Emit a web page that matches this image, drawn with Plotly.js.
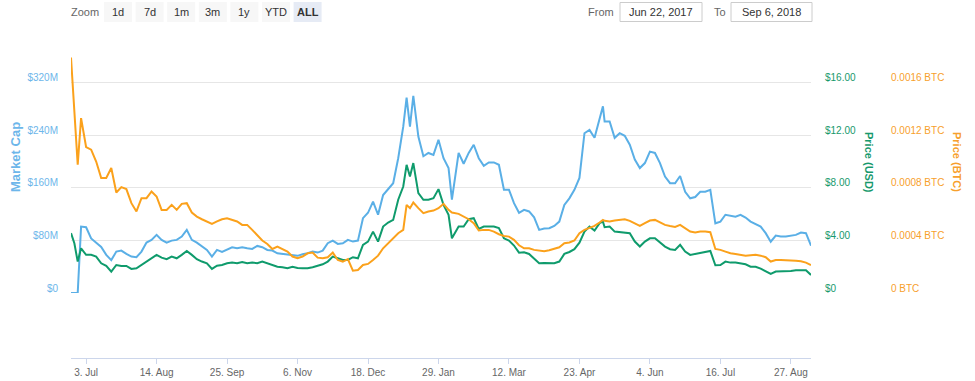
<!DOCTYPE html>
<html><head><meta charset="utf-8">
<script src="https://cdn.plot.ly/plotly-3.0.1.min.js"></script>
<style>html,body{margin:0;padding:0;background:#fff;}#chart{width:975px;height:381px;}</style>
</head><body><div id="chart"></div>
<script>
const dates = [
"2017-06-24","2017-06-26","2017-06-28","2017-06-30",
"2017-07-03","2017-07-06","2017-07-09","2017-07-12","2017-07-15","2017-07-18","2017-07-21","2017-07-24","2017-07-27","2017-07-30",
"2017-08-02","2017-08-05","2017-08-08","2017-08-11","2017-08-14","2017-08-17","2017-08-20","2017-08-23","2017-08-26","2017-08-29",
"2017-09-01","2017-09-04","2017-09-07","2017-09-10","2017-09-13","2017-09-16","2017-09-19","2017-09-22","2017-09-25","2017-09-28",
"2017-10-01","2017-10-04","2017-10-07","2017-10-10","2017-10-13","2017-10-16","2017-10-19","2017-10-22","2017-10-25","2017-10-28","2017-10-31",
"2017-11-03","2017-11-06","2017-11-09","2017-11-12","2017-11-15","2017-11-18","2017-11-21","2017-11-24","2017-11-27","2017-11-30",
"2017-12-03","2017-12-06","2017-12-09","2017-12-12","2017-12-15","2017-12-18","2017-12-21","2017-12-24","2017-12-27","2017-12-30",
"2018-01-02","2018-01-05","2018-01-08","2018-01-10","2018-01-12","2018-01-14","2018-01-17","2018-01-20","2018-01-23","2018-01-26","2018-01-29",
"2018-02-01","2018-02-04","2018-02-06","2018-02-10","2018-02-13","2018-02-16","2018-02-19","2018-02-22","2018-02-25","2018-02-28",
"2018-03-03","2018-03-06","2018-03-09","2018-03-12","2018-03-15","2018-03-18","2018-03-21","2018-03-24","2018-03-27","2018-03-30",
"2018-04-02","2018-04-05","2018-04-08","2018-04-11","2018-04-14","2018-04-17","2018-04-20","2018-04-23","2018-04-26","2018-04-29",
"2018-05-02","2018-05-05","2018-05-07","2018-05-08","2018-05-11","2018-05-14","2018-05-17","2018-05-20","2018-05-23","2018-05-26","2018-05-29",
"2018-06-01","2018-06-04","2018-06-07","2018-06-10","2018-06-13","2018-06-16","2018-06-19","2018-06-22","2018-06-25","2018-06-28",
"2018-07-01","2018-07-04","2018-07-07","2018-07-10","2018-07-13","2018-07-16","2018-07-19","2018-07-22","2018-07-25","2018-07-28","2018-07-31",
"2018-08-03","2018-08-06","2018-08-09","2018-08-12","2018-08-15","2018-08-18","2018-08-21","2018-08-24","2018-08-27","2018-08-30",
"2018-09-02","2018-09-05","2018-09-08"];

// Market cap in millions of USD
const marketCapM = [0,0,0,101,
100,83,76,70,58,50,63,64.5,59.4,55.4,
54.4,63,76.7,80.8,88.4,80.8,76.7,79.7,80.8,85.8,
96,80.8,76.7,70.6,65.5,55.4,65.5,62.5,65.5,69.6,
68,69.6,68,67,71.6,69.6,65.5,64.5,60.4,59.4,58,
57,56.5,59,60.4,63,61.5,64.5,75.7,79.7,74.7,
75.7,80.8,78.2,79.7,113.8,122,139,119,149,158,
167,205,253,297,253,300,238,208,213,210,233,
205,190,142,213,196.6,213,225.5,205,193.5,198.6,
198.6,195,157,157,136.6,122,126.5,124,115,96,
98,98.5,102,108.6,134,144,157,175,243,248,
236,266,284,261,261,236,243,239,225.5,203,190,
197.6,215,213,197.6,177,167,167,178,154,144,
146,154,154,157,106,108.6,119,117,116,119,114.8,
108.6,105,101,91,78,87.4,85.8,85.8,86.9,88.4,
92,91,72];

const priceUSD = [4.55,3.78,2.39,3.4,
2.9,2.9,2.77,2.26,2.06,1.62,2.13,2.06,2.06,1.83,
1.88,2.13,2.44,2.64,2.9,2.69,2.57,2.77,2.64,2.9,
3.2,2.9,2.57,2.39,2.26,1.83,2.08,2.13,2.26,2.31,
2.26,2.36,2.26,2.31,2.26,2.39,2.26,2.11,2.0,1.96,1.88,
2.0,1.9,1.88,1.88,1.96,2.08,2.18,2.39,2.77,2.64,
2.51,2.51,2.72,2.64,3.66,3.91,4.67,3.91,5.05,5.36,
5.56,7.09,8.1,9.75,8.86,9.88,7.6,7.09,7.09,7.21,7.9,
6.7,5.94,4.16,5.05,5.05,5.61,5.69,4.88,5.05,5.05,
5.05,4.93,4.16,3.99,3.61,3.07,3.1,2.97,2.64,2.26,
2.28,2.26,2.26,2.39,2.97,3.12,3.33,3.83,4.67,5.05,
4.75,5.31,5.43,5.0,5.05,4.67,4.62,4.62,4.55,3.91,3.53,
3.91,4.16,4.16,3.83,3.53,3.33,3.28,3.66,3.15,2.9,
2.97,3.07,3.1,3.2,2.11,2.13,2.39,2.31,2.31,2.26,2.18,
2.0,2.0,1.85,1.68,1.45,1.63,1.63,1.65,1.68,1.73,
1.75,1.73,1.37];

const priceBTC = [0.00179,0.00139,0.000975,0.00133,
0.00111,0.00109,0.001,0.000874,0.000874,0.00095,0.000764,0.000805,0.00079,0.000683,
0.00062,0.000721,0.000721,0.000772,0.000734,0.000632,0.000632,0.00067,0.000632,0.000678,
0.000683,0.000612,0.000581,0.000561,0.000544,0.000526,0.000544,0.000561,0.000569,0.000556,
0.000544,0.000518,0.000518,0.00048,0.000437,0.000399,0.000373,0.000335,0.000353,0.000333,0.000315,
0.000277,0.000264,0.000277,0.000302,0.000307,0.000269,0.000264,0.000272,0.000307,0.000251,
0.000239,0.000257,0.00017,0.000175,0.000213,0.000221,0.000251,0.000284,0.00034,0.000379,
0.000424,0.000455,0.00048,0.00067,0.000645,0.000688,0.000645,0.000607,0.00062,0.000627,0.000645,
0.000678,0.000632,0.000612,0.000602,0.000581,0.000561,0.000531,0.000475,0.00048,0.00048,
0.000467,0.000447,0.000434,0.000429,0.000404,0.000363,0.00034,0.00034,0.000328,0.000323,
0.000318,0.000325,0.000338,0.000348,0.000378,0.000384,0.000399,0.000455,0.00048,0.000493,
0.00051,0.000536,0.000556,0.000549,0.000544,0.000551,0.000556,0.000561,0.000549,0.000528,0.00051,
0.000531,0.000551,0.000556,0.000538,0.000518,0.00051,0.000503,0.000518,0.000493,0.000467,
0.00046,0.000467,0.000467,0.000462,0.000335,0.000328,0.000315,0.000302,0.000297,0.00029,0.000284,
0.000287,0.00029,0.000284,0.000272,0.000239,0.000251,0.000251,0.000251,0.000246,0.000246,
0.000241,0.000231,0.000213];

const capTickVals = [0, 80, 160, 240, 320];
const capTickText = ["$0", "$80M", "$160M", "$240M", "$320M"];
const usdTickVals = [0, 4, 8, 12, 16];
const usdTickText = ["$0", "$4.00", "$8.00", "$12.00", "$16.00"];
const btcTickVals = [0, 0.0004, 0.0008, 0.0012, 0.0016];
const btcTickText = ["0 BTC", "0.0004 BTC", "0.0008 BTC", "0.0012 BTC", "0.0016 BTC"];
const zoomButtons = ["1d", "7d", "1m", "3m", "1y", "YTD", "ALL"];
const selectedButton = "ALL";
const fromDate = "Jun 22, 2017";
const toDate = "Sep 6, 2018";

if (dates.length !== marketCapM.length || dates.length !== priceUSD.length || dates.length !== priceBTC.length) {
  throw new Error("length mismatch " + dates.length + " " + marketCapM.length + " " + priceUSD.length + " " + priceBTC.length);
}

const FONT = "Liberation Sans, Arial, sans-serif";
const BLUE = "#5aafe6", BLUE_T = "#6db6ea";
const GREEN = "#0f9b6c", GREEN_T = "#17996c";
const ORANGE = "#fba11b", ORANGE_T = "#f7a02c";

// plot area in pixels
const L = 71, T = 30, W = 904, H = 328;
const px = x => (x - L) / W;
const py = y => (T + H - y) / H;

const traces = [
  {x: dates, y: marketCapM, type: "scatter", mode: "lines", yaxis: "y", line: {color: BLUE, width: 2}, hoverinfo: "skip"},
  {x: dates, y: priceUSD, type: "scatter", mode: "lines", yaxis: "y2", line: {color: GREEN, width: 2}, hoverinfo: "skip"},
  {x: dates, y: priceBTC, type: "scatter", mode: "lines", yaxis: "y3", line: {color: ORANGE, width: 2}, hoverinfo: "skip"}
];

const shapes = [];
const annotations = [];
zoomButtons.forEach((b, k) => {
  const left = 104 + 31.6 * k;
  shapes.push({type: "rect", xref: "paper", yref: "paper", x0: px(left), x1: px(left + 28), y0: py(22), y1: py(2),
    fillcolor: b === selectedButton ? "#e6ebf5" : "#f7f7f7", line: {width: 0}, layer: "above"});
  annotations.push({xref: "paper", yref: "paper", x: px(left + 14), y: py(12), text: b === selectedButton ? "<b>" + b + "</b>" : b,
    showarrow: false, xanchor: "center", yanchor: "middle", font: {family: FONT, size: 11, color: "#333333"}});
});
annotations.push({xref: "paper", yref: "paper", x: px(85), y: py(12), text: "Zoom", showarrow: false, xanchor: "center", yanchor: "middle", font: {family: FONT, size: 11, color: "#666666"}});
annotations.push({xref: "paper", yref: "paper", x: px(601), y: py(12), text: "From", showarrow: false, xanchor: "center", yanchor: "middle", font: {family: FONT, size: 11, color: "#666666"}});
annotations.push({xref: "paper", yref: "paper", x: px(720), y: py(12), text: "To", showarrow: false, xanchor: "center", yanchor: "middle", font: {family: FONT, size: 11, color: "#666666"}});
[[620, 702, fromDate], [731, 812, toDate]].forEach(([a, b, t]) => {
  shapes.push({type: "rect", xref: "paper", yref: "paper", x0: px(a), x1: px(b), y0: py(21.5), y1: py(2.5),
    fillcolor: "#ffffff", line: {width: 1, color: "#cccccc"}, layer: "above"});
  annotations.push({xref: "paper", yref: "paper", x: px((a + b) / 2), y: py(12), text: t, showarrow: false, xanchor: "center", yanchor: "middle", font: {family: FONT, size: 11, color: "#333333"}});
});
// axis titles
annotations.push({xref: "paper", yref: "paper", x: px(15), y: py(157), text: "<b>Market Cap</b>", textangle: -90, showarrow: false, xanchor: "center", yanchor: "middle", font: {family: FONT, size: 13, color: BLUE_T}});
annotations.push({xref: "paper", yref: "paper", x: px(869), y: py(162), text: "<b>Price (USD)</b>", textangle: 90, showarrow: false, xanchor: "center", yanchor: "middle", font: {family: FONT, size: 11, color: GREEN_T}});
annotations.push({xref: "paper", yref: "paper", x: px(957), y: py(162), text: "<b>Price (BTC)</b>", textangle: 90, showarrow: false, xanchor: "center", yanchor: "middle", font: {family: FONT, size: 11, color: ORANGE_T}});

const yDomain = [65 / H, 1];
const layout = {
  width: 975, height: 381,
  margin: {l: L, r: 975 - L - W, t: T, b: 381 - T - H, pad: 0},
  paper_bgcolor: "#ffffff", plot_bgcolor: "#ffffff",
  showlegend: false, hovermode: false,
  font: {family: FONT, size: 10, color: "#666666"},
  xaxis: {
    type: "date", domain: [0, 740 / W], range: ["2017-06-24", "2018-09-08"],
    anchor: "free", position: 0,
    showgrid: false, zeroline: false,
    showline: true, linecolor: "#ccd6eb", linewidth: 1,
    ticks: "outside", ticklen: 5, tickwidth: 1, tickcolor: "#ccd6eb",
    tick0: "2017-07-03", dtick: 42 * 86400000, tickformat: "%-d. %b",
    tickfont: {family: FONT, size: 10, color: "#666666"}
  },
  yaxis: {
    domain: yDomain, range: [0, 400], tickvals: capTickVals, ticktext: capTickText,
    showgrid: true, gridcolor: "#e6e6e6", gridwidth: 1, zeroline: false, showline: false,
    ticks: "", ticklabelstandoff: 12, ticklabelshift: -5,
    tickfont: {family: FONT, size: 10, color: BLUE_T}
  },
  yaxis2: {
    domain: yDomain, overlaying: "y", side: "right", anchor: "x", range: [0, 20],
    tickvals: usdTickVals, ticktext: usdTickText, showgrid: false, zeroline: false, showline: false,
    ticks: "", ticklabelstandoff: 13, ticklabelshift: -5,
    tickfont: {family: FONT, size: 10, color: GREEN_T}
  },
  yaxis3: {
    domain: yDomain, overlaying: "y", side: "right", anchor: "free", position: (890 - L) / W, range: [0, 0.002],
    tickvals: btcTickVals, ticktext: btcTickText, showgrid: false, zeroline: false, showline: false,
    ticks: "", ticklabelstandoff: 0, ticklabelshift: -5,
    tickfont: {family: FONT, size: 10, color: ORANGE_T}
  },
  shapes: shapes,
  annotations: annotations
};

Plotly.newPlot("chart", traces, layout, {displayModeBar: false, staticPlot: true});
</script>
</body></html>
